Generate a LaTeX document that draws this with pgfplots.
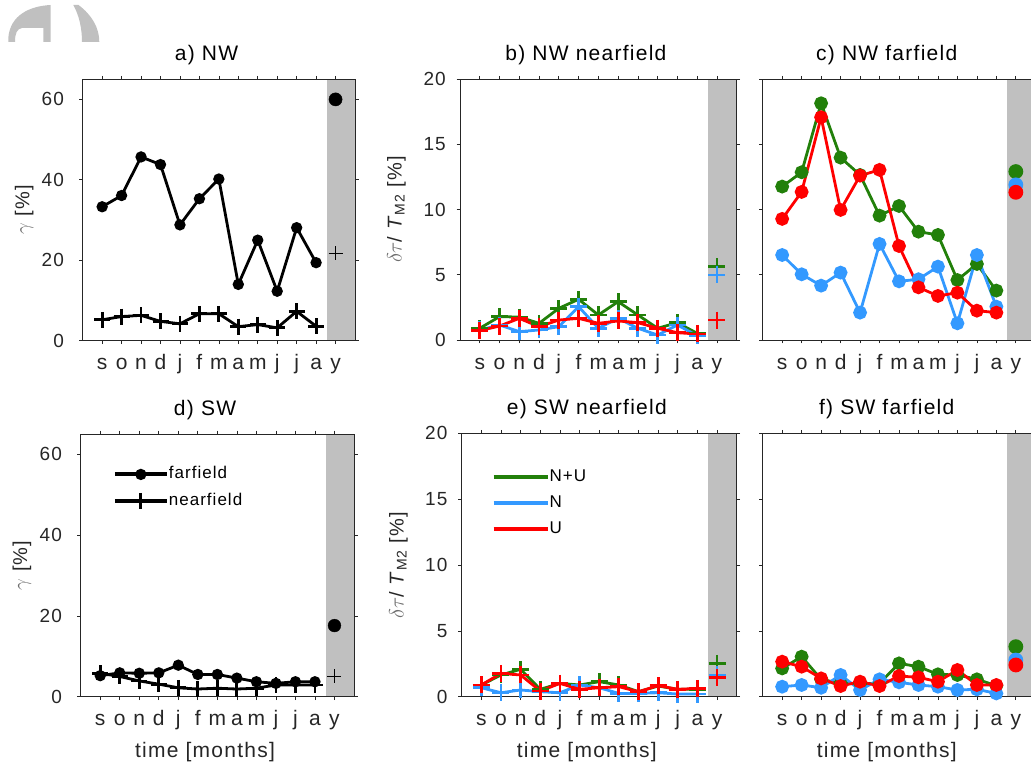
\documentclass[border=0pt]{standalone}
\usepackage{fontspec}
\setmainfont[LetterSpace=6]{Liberation Sans}
\usepackage{pgfplots}
\pgfplotsset{compat=1.18}
\usepackage{pgfplotstable}

\definecolor{nugreen}{RGB}{34,128,10}
\definecolor{nblue}{RGB}{51,153,255}
\definecolor{ured}{RGB}{255,0,0}
\definecolor{axgray}{RGB}{38,38,38}
\definecolor{ybg}{RGB}{192,192,192}
\definecolor{labgray}{RGB}{110,110,110}

% gamma [%], NW and SW
\pgfplotstableread{
m far near
1 33.3 5.2
2 36.1 6.0
3 45.7 6.3
4 43.8 4.8
5 28.8 4.2
6 35.3 6.7
7 40.2 6.7
8 14.0 3.5
9 25.0 4.0
10 12.3 3.2
11 28.1 7.3
12 19.4 3.6
}\tabA
\pgfplotstableread{
m far near
1 5.2 5.8
2 5.9 5.0
3 5.8 3.9
4 5.9 3.1
5 7.8 2.2
6 5.5 1.9
7 5.5 2.1
8 4.6 1.9
9 3.7 2.1
10 3.3 2.9
11 3.7 2.9
12 3.7 2.9
}\tabD
% delta tau / T_M2 [%]
\pgfplotstableread{
m NU N U
1 0.90 0.77 0.72
2 1.79 1.15 1.07
3 1.76 0.64 1.66
4 1.28 0.77 1.02
5 2.43 1.02 1.53
6 3.12 2.56 1.66
7 1.92 0.90 1.28
8 2.94 1.66 1.46
9 1.92 0.90 1.33
10 0.90 0.38 0.90
11 1.33 1.15 0.56
12 0.51 0.33 0.46
}\tabB
\pgfplotstableread{
m NU N U
1 11.77 6.52 9.29
2 12.87 5.04 11.36
3 18.16 4.17 17.09
4 13.99 5.17 9.98
5 12.66 2.10 12.61
6 9.54 7.37 13.05
7 10.28 4.50 7.21
8 8.31 4.66 4.04
9 8.06 5.63 3.38
10 4.60 1.28 3.63
11 5.83 6.52 2.25
12 3.79 2.56 2.10
}\tabC
\pgfplotstableread{
m NU N U
1 0.89 0.68 0.89
2 1.65 0.30 1.77
3 2.08 0.51 1.65
4 0.56 0.38 0.43
5 1.01 0.30 1.01
6 0.89 0.89 0.56
7 1.14 0.68 0.68
8 0.89 0.25 0.76
9 0.38 0.25 0.38
10 0.81 0.30 0.84
11 0.56 0.20 0.56
12 0.56 0.20 0.63
}\tabE
\pgfplotstableread{
m NU N U
1 2.15 0.76 2.66
2 3.04 0.89 2.28
3 1.32 0.68 1.39
4 1.01 1.65 0.81
5 1.01 0.51 1.14
6 1.01 1.32 0.81
7 2.53 1.09 1.57
8 2.28 0.89 1.47
9 1.70 0.76 1.14
10 1.65 0.51 2.03
11 1.32 0.56 0.89
12 0.84 0.25 0.89
}\tabF

\pgfplotsset{
  panel/.style={
    scale only axis, anchor=south west, clip=false, axis on top,
    xmin=0, xmax=14, ymin=0,
    xtick={1,...,13}, xticklabels={s,o,n,d,j,f,m,a,m,j,j,a,y},
    tick align=outside, tick pos=both, major tick length=3.5pt,
    axis line style={axgray, line width=0.7pt},
    every tick/.style={axgray, line width=0.7pt},
    xticklabel style={font=\fontsize{21}{24}\selectfont, text=axgray, inner sep=0pt,
      text height=15.5pt, text depth=4.5pt, anchor=north, yshift=-10pt},
    yticklabel style={font=\fontsize{19}{22}\selectfont, text=axgray, inner sep=0pt},
    /pgf/number format/assume math mode=true,
    title style={font=\fontsize{21}{24}\selectfont, at={(axis description cs:0.455,1)},
      anchor=center, yshift=18pt},
    xlabel style={font=\fontsize{21}{24}\selectfont, text=axgray,
      at={(axis description cs:0.455,0)}, anchor=center, yshift=-55pt},
    ylabel style={font=\fontsize{20}{23}\selectfont, text=axgray, anchor=center},
    legend style={anchor=north west, draw=none, fill=none,
      font=\fontsize{17}{20}\selectfont, row sep=11pt,
      nodes={inner sep=0pt, text height=12pt, text depth=3pt}},
    legend cell align=left,
  },
  gam/.style={panel, ymax=65, ytick={0,20,40,60}, yticklabel style={xshift=-15pt},
    ylabel={{\color{labgray}$\gamma$} [\%]},
    ylabel style={at={(axis description cs:-0.215,0.5)}}},
  dtau/.style={panel, ymax=20, ytick={0,5,...,20}, yticklabel style={xshift=-10.5pt},
    ylabel={{\color{labgray}$\delta\tau$}/ \textit{T}\textsubscript{M2} [\%]},
    ylabel style={at={(axis description cs:-0.23,0.5)}}},
  dtauR/.style={panel, ymax=20, ytick={0,5,...,20}, yticklabels={}},
  far/.style={black, line width=2.8pt, mark=*, mark size=4.2pt},
  near/.style={black, line width=2.8pt, mark=+, mark size=8pt},
  pl/.style={#1, line width=2.8pt, mark=+, mark size=8.5pt},
  dt/.style={#1, line width=2.8pt, mark=*, mark size=5.5pt},
}

\begin{document}
\begin{tikzpicture}[x=1pt,y=1pt]
\useasboundingbox (0,0) rectangle (1031,771);

% grey mark in the top left corner
\begin{scope}[shift={(0,771)}, yscale=-1]
\fill[ybg] (8.3,42) -- (8.3,38) .. controls (10,15) and (30,6) .. (50.7,5) -- (50.7,42)
  -- (43.3,42) -- (43.3,28) -- (22,28) .. controls (17,29) and (15,33) .. (15,42) -- cycle;
\fill[ybg] (73.3,5) -- (78.5,5) .. controls (92,15) and (99.3,28) .. (99.3,42) -- (82,42)
  .. controls (82,28) and (79,15) .. (73.3,5) -- cycle;
\end{scope}

% a) NW
\begin{axis}[gam, at={(82.7pt,430.3pt)}, width=272.3pt, height=261.4pt, title={a) NW}]
\fill[ybg] (axis cs:12.55,0) rectangle (axis cs:14,65);
\addplot[far] table[x=m,y=far]{\tabA};
\addplot[near] table[x=m,y=near]{\tabA};
\addplot[black, only marks, mark=*, mark size=6.6pt] coordinates {(13,60)};
\addplot[black, only marks, mark=+, mark size=7pt, line width=1pt] coordinates {(13,21.7)};
\end{axis}

% b) NW nearfield
\begin{axis}[dtau, at={(460pt,431pt)}, width=276.7pt, height=260.7pt, title={b) NW nearfield}]
\fill[ybg] (axis cs:12.55,0) rectangle (axis cs:14,20);
\addplot[pl=nugreen] table[x=m,y=NU]{\tabB};
\addplot[pl=nblue] table[x=m,y=N]{\tabB};
\addplot[pl=ured] table[x=m,y=U]{\tabB};
\addplot[pl=nugreen, only marks] coordinates {(13,5.63)};
\addplot[pl=nblue, only marks] coordinates {(13,4.99)};
\addplot[pl=ured, only marks] coordinates {(13,1.53)};
\end{axis}

% c) NW farfield
\begin{axis}[dtauR, at={(762.7pt,431pt)}, width=272.6pt, height=260.7pt, title={c) NW farfield}]
\fill[ybg] (axis cs:12.55,0) rectangle (axis cs:14,20);
\addplot[dt=nugreen] table[x=m,y=NU]{\tabC};
\addplot[dt=nblue] table[x=m,y=N]{\tabC};
\addplot[dt=ured] table[x=m,y=U]{\tabC};
\addplot[dt=nugreen, only marks, mark size=6pt] coordinates {(13,12.92)};
\addplot[dt=nblue, only marks, mark size=6pt] coordinates {(13,11.9)};
\addplot[dt=ured, only marks, mark size=6pt] coordinates {(13,11.33)};
\end{axis}

% d) SW
\begin{axis}[gam, at={(80.7pt,74.3pt)}, width=273.3pt, height=262.7pt, title={d) SW},
  xlabel={time [months]},
  legend style={at={(axis description cs:0.106,0.883)}},
  legend image code/.code={\draw[#1, line width=4pt] (0pt,0pt) -- (52pt,0pt);
    \draw[#1] plot coordinates {(26pt,0pt)};}]
\fill[ybg] (axis cs:12.55,0) rectangle (axis cs:14,65);
\addplot[far] table[x=m,y=far]{\tabD};
\addplot[near] table[x=m,y=near]{\tabD};
\addplot[black, only marks, mark=*, mark size=6.4pt, forget plot] coordinates {(13,17.6)};
\addplot[black, only marks, mark=+, mark size=7pt, line width=1pt, forget plot] coordinates {(13,5.1)};
\legend{farfield, nearfield}
\end{axis}

% e) SW nearfield
\begin{axis}[dtau, at={(461.7pt,74.3pt)}, width=275pt, height=263.3pt, title={e) SW nearfield},
  xlabel={time [months]},
  legend style={at={(axis description cs:0.097,0.872)}},
  legend image code/.code={\draw[#1, line width=4pt] (0pt,0pt) -- (54pt,0pt);}]
\fill[ybg] (axis cs:12.55,0) rectangle (axis cs:14,20);
\addplot[pl=nugreen, forget plot] table[x=m,y=NU]{\tabE};
\addplot[pl=nblue, forget plot] table[x=m,y=N]{\tabE};
\addplot[pl=ured, forget plot] table[x=m,y=U]{\tabE};
\addplot[pl=nugreen, only marks, forget plot] coordinates {(13,2.53)};
\addplot[pl=nblue, only marks, forget plot] coordinates {(13,1.65)};
\addplot[pl=ured, only marks, forget plot] coordinates {(13,1.47)};
\addlegendimage{nugreen}
\addlegendimage{nblue}
\addlegendimage{ured}
\legend{N+U, N, U}
\end{axis}

% f) SW farfield
\begin{axis}[dtauR, at={(762.7pt,74.3pt)}, width=272.6pt, height=263.3pt, title={f) SW farfield},
  xlabel={time [months]}]
\fill[ybg] (axis cs:12.55,0) rectangle (axis cs:14,20);
\addplot[dt=nugreen] table[x=m,y=NU]{\tabF};
\addplot[dt=nblue] table[x=m,y=N]{\tabF};
\addplot[dt=ured] table[x=m,y=U]{\tabF};
\addplot[dt=nugreen, only marks, mark size=6pt] coordinates {(13,3.80)};
\addplot[dt=nblue, only marks, mark size=6pt] coordinates {(13,2.78)};
\addplot[dt=ured, only marks, mark size=6pt] coordinates {(13,2.41)};
\end{axis}
\end{tikzpicture}
\end{document}
